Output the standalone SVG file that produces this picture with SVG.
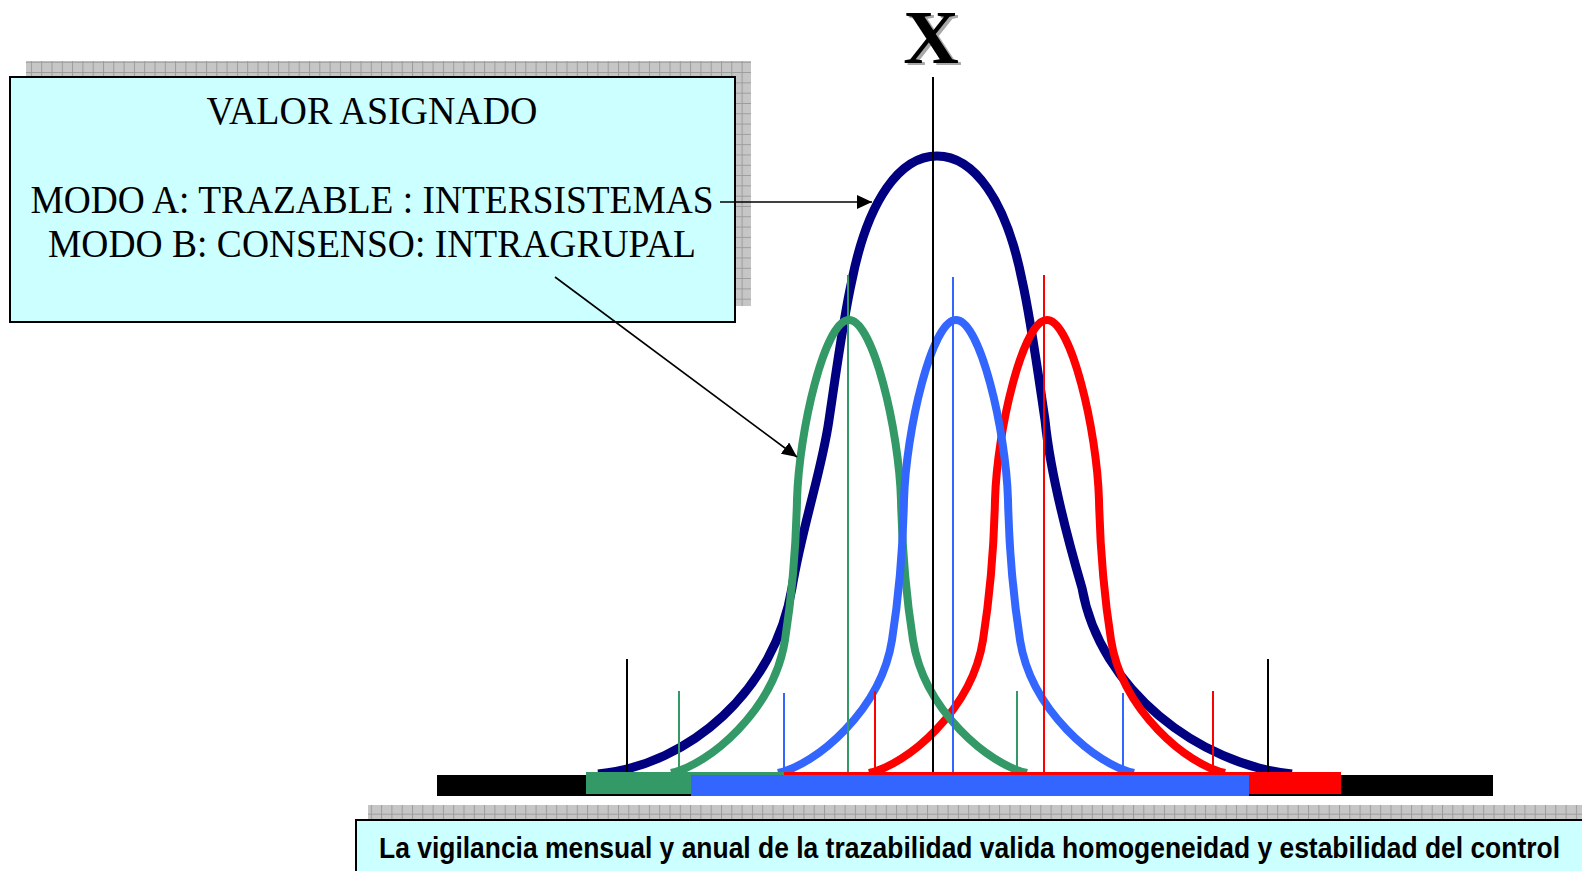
<svg xmlns="http://www.w3.org/2000/svg" xmlns:xlink="http://www.w3.org/1999/xlink" width="1582" height="871" viewBox="0 0 1582 871">
<style>
.serif{font-family:"Liberation Serif","Times New Roman",serif;fill:#000}
.sans{font-family:"Liberation Sans",Arial,sans-serif;font-weight:bold;fill:#000}
.bell{fill:none;stroke-linejoin:round;stroke-linecap:butt}
.vl{stroke-width:2;fill:none}
.conn{stroke:#000;stroke-width:1.6;fill:none}
.box{fill:#CCFFFF;stroke:#000;stroke-width:2}
</style>
<defs>
<pattern id="grid" width="10.3" height="10.3" patternUnits="userSpaceOnUse">
<rect width="10.3" height="10.3" fill="#c6c6c6"/>
<path d="M0 0.5H10.3M0.5 0V10.3" stroke="#9c9c9c" stroke-width="1"/>
</pattern>
<marker id="arr" markerWidth="16" markerHeight="14" refX="15" refY="7" orient="auto" markerUnits="userSpaceOnUse">
<path d="M0 0L15 7L0 14Z" fill="#000"/>
</marker>
<path id="bellShape" d="M-178,453 C-140,445 -75,390 -64,320 C-57,275 -53,225 -52,180 C-50,110 -24,0 0,0 C24,0 50,110 52,180 C53,225 57,275 64,320 C75,390 140,445 178,453"/>
</defs>
<rect width="1582" height="871" fill="#fff"/>

<g id="info-box">
<rect x="26" y="61" width="725" height="245" fill="url(#grid)"/>
<rect class="box" x="10" y="77" width="725" height="245"/>
<text class="serif" x="372" y="124" font-size="39" text-anchor="middle" textLength="331" lengthAdjust="spacingAndGlyphs">VALOR ASIGNADO</text>
<text class="serif" x="372" y="213" font-size="39" text-anchor="middle" textLength="683" lengthAdjust="spacingAndGlyphs">MODO A: TRAZABLE : INTERSISTEMAS</text>
<text class="serif" x="372" y="257" font-size="39" text-anchor="middle" textLength="648" lengthAdjust="spacingAndGlyphs">MODO B: CONSENSO: INTRAGRUPAL</text>
</g>

<g id="x-label">
<text class="serif" x="934" y="65" font-size="77" font-weight="bold" text-anchor="middle" style="fill:#a8a8a8">X</text>
<text class="serif" x="931" y="63" font-size="77" font-weight="bold" text-anchor="middle">X</text>
</g>

<g id="curves">
<path id="navy-curve" class="bell" stroke="#000080" stroke-width="9" d="M598,774 C690,765 775,690 792,588 C802,527 822,470 829,420 C835,380 843,320 852,280 C868,200 900,156 937,156 C974,156 1006,200 1022,280 C1031,320 1039,380 1045,420 C1050,470 1065,530 1082,588 C1100,690 1200,765 1292,774"/>
<use id="red-curve" class="bell" href="#bellShape" xlink:href="#bellShape" transform="translate(1047,320)" stroke="#FF0000" stroke-width="8"/>
<use id="green-curve" class="bell" href="#bellShape" xlink:href="#bellShape" transform="translate(849,320)" stroke="#339966" stroke-width="8"/>
<use id="blue-curve" class="bell" href="#bellShape" xlink:href="#bellShape" transform="translate(956,320)" stroke="#3366FF" stroke-width="8"/>
</g>

<g id="axis-lines">
<line class="vl" x1="933" y1="77" x2="933" y2="775" stroke="#000"/>
<line class="vl" x1="848" y1="275" x2="848" y2="772" stroke="#339966"/>
<line class="vl" x1="953" y1="277" x2="953" y2="772" stroke="#3366FF"/>
<line class="vl" x1="1044" y1="275" x2="1044" y2="772" stroke="#FF0000"/>
<line class="vl" x1="627" y1="659" x2="627" y2="775" stroke="#000"/>
<line class="vl" x1="1268" y1="659" x2="1268" y2="775" stroke="#000"/>
<line class="vl" x1="679" y1="691" x2="679" y2="772" stroke="#339966"/>
<line class="vl" x1="1017" y1="691" x2="1017" y2="772" stroke="#339966"/>
<line class="vl" x1="784" y1="693" x2="784" y2="775" stroke="#3366FF"/>
<line class="vl" x1="1123" y1="693" x2="1123" y2="775" stroke="#3366FF"/>
<line class="vl" x1="875" y1="691" x2="875" y2="772" stroke="#FF0000"/>
<line class="vl" x1="1213" y1="691" x2="1213" y2="772" stroke="#FF0000"/>
</g>

<g id="bars">
<rect x="437" y="775" width="1056" height="21" fill="#000"/>
<rect x="586" y="772" width="198" height="22" fill="#339966"/>
<rect x="784" y="772" width="557" height="22" fill="#FF0000"/>
<rect x="691" y="775" width="558" height="21" fill="#3366FF"/>
</g>

<g id="connectors">
<line class="conn" x1="720" y1="202" x2="872" y2="202" marker-end="url(#arr)"/>
<line class="conn" x1="555" y1="277" x2="797" y2="457" marker-end="url(#arr)"/>
</g>

<g id="note-box">
<rect x="368" y="805" width="1214" height="15" fill="url(#grid)"/>
<rect class="box" x="356" y="820" width="1236" height="60"/>
<text class="sans" x="379" y="858" font-size="30" textLength="1181" lengthAdjust="spacingAndGlyphs">La vigilancia mensual y anual de la trazabilidad valida homogeneidad y estabilidad del control</text>
</g>
</svg>
